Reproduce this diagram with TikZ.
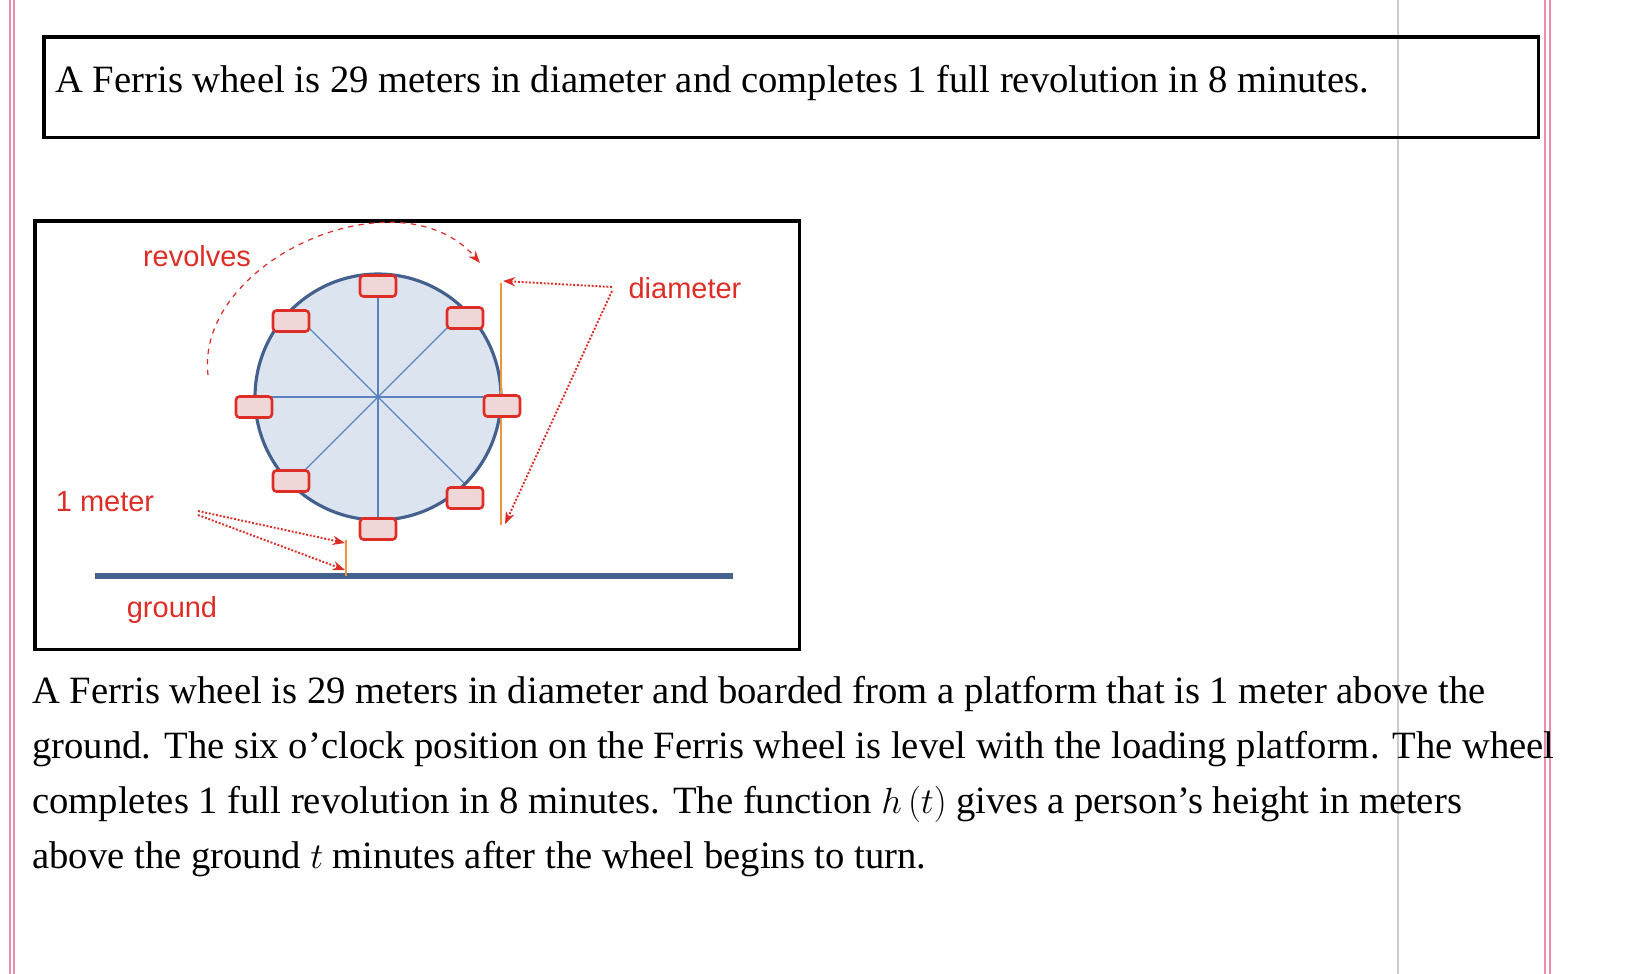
\documentclass[tikz,border=0pt]{standalone}
\usepackage{fontspec}
\setmainfont{Liberation Serif}
\newfontfamily\lab{Liberation Sans}
\usetikzlibrary{arrows.meta}
\definecolor{wred}{RGB}{222,45,38}
\definecolor{wblue}{RGB}{68,96,140}
\definecolor{wfill}{RGB}{220,228,240}
\definecolor{cfill}{RGB}{240,215,215}
\definecolor{spoke}{RGB}{90,130,190}
\definecolor{orng}{RGB}{235,150,60}
\definecolor{pinkb}{RGB}{235,140,180}
\tikzset{x=0.02cm,y=-0.02cm,
 car/.style={draw=wred,fill=cfill,line width=1.5pt,rounded corners=2pt,minimum width=0.72cm,minimum height=0.42cm,inner sep=0pt},
 lbl/.style={text=wred,font=\lab\fontsize{16.5pt}{19pt}\selectfont,inner sep=0pt},
 para/.style={anchor=base west,inner sep=0pt,font=\fontsize{22pt}{26pt}\selectfont},
 dotarr/.style={wred,densely dotted,line width=1.1pt,-{Stealth[length=7pt]}}}
\begin{document}
\begin{tikzpicture}
\useasboundingbox (0,0) rectangle (1634,974);
\draw[pinkb,line width=1pt] (10,0)--(10,974) (14,0)--(14,974) (1545,0)--(1545,974) (1550,0)--(1550,974);
\draw[gray!40,line width=0.6pt] (1398,0)--(1398,974);
\node[draw,line width=2pt,minimum width=29.9cm,minimum height=2.02cm,anchor=north west] (top) at (42,35) {};
\node[para] (t1) at (55,92) {A Ferris wheel is 29 meters in diameter and completes 1 full revolution in 8 minutes.};
\node[draw,line width=2pt,minimum width=15.3cm,minimum height=8.58cm,anchor=north west] (box) at (33,219) {};
\coordinate (c) at (378,397);
\fill[wfill] (c) circle[radius=2.46cm];
\foreach \a in {0,45,...,315} \draw[spoke,line width=0.7pt] (c) -- ++(\a:2.46cm);
\draw[wblue,line width=1.8pt] (c) circle[radius=2.46cm];
\draw[orng,line width=1pt] (501,283)--(501,525);
\draw[wblue,line width=3pt] (95,576)--(733,576);
\draw[orng,line width=1pt] (346,540)--(346,576);
\foreach \n/\x/\y in {a/378/286,b/465/318,c2/502/406,d/465/498,e/378/529,f/291/481,g/254/407,h/291/321}
  \node[car] (\n) at (\x,\y) {};
\node[lbl] (rev) at (197,256) {revolves};
\node[lbl] (dia) at (685,288) {diameter};
\node[lbl] (met) at (105,502) {1 meter};
\node[lbl] (gr) at (172,610) {ground};
\coordinate (s1) at (208,375);
\coordinate (e1) at (480,263);
\draw[wred,dashed,line width=0.7pt,-{Stealth[length=7pt]}] (s1) .. controls (195,260) and (400,170) .. (e1);
\coordinate (dt) at (503,281);
\coordinate (db) at (505,524);
\draw[dotarr] (612,287) -- (dt);
\draw[dotarr] (612,291) -- (db);
\draw[dotarr] (198,511) -- (345,543);
\draw[dotarr] (198,515) -- (345,570);
\node[para] (p1) at (32,703) {A Ferris wheel is 29 meters in diameter and boarded from a platform that is 1 meter above the};
\node[para] (p2) at (32,758) {ground. The six o’clock position on the Ferris wheel is level with the loading platform. The wheel};
\node[para] (p3) at (32,813) {completes 1 full revolution in 8 minutes. The function $h\left(t\right)$ gives a person’s height in meters};
\node[para] (p4) at (32,868) {above the ground $t$ minutes after the wheel begins to turn.};
\end{tikzpicture}
\end{document}
